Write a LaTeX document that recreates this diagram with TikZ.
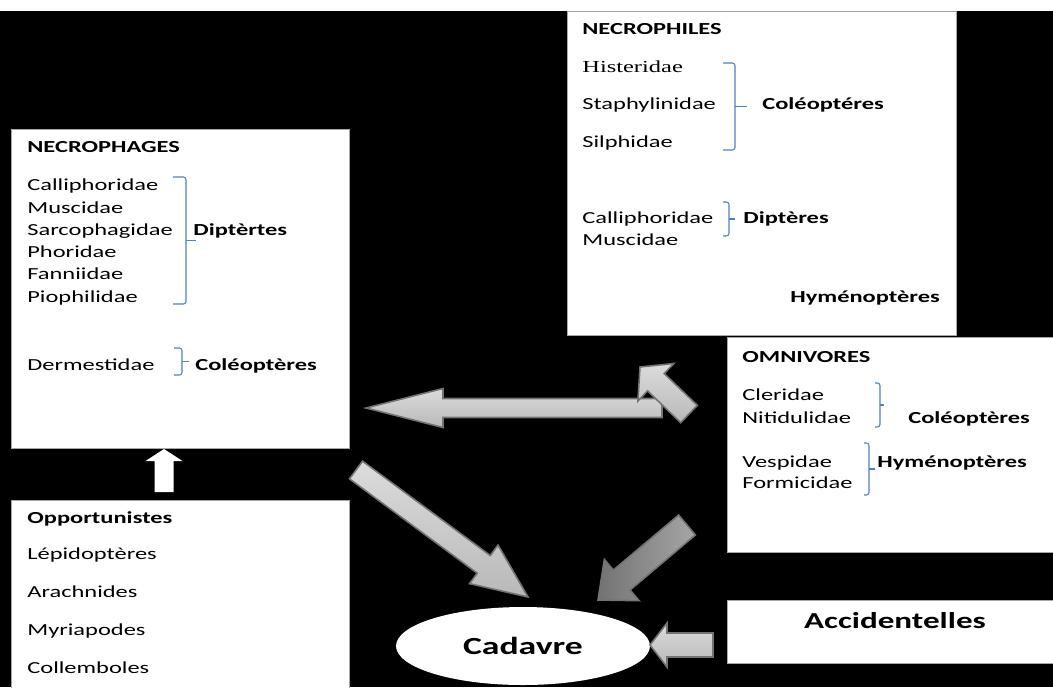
\documentclass[tikz,border=0pt]{standalone}
\usepackage{fontspec}
\newfontfamily\bodyfont[FakeStretch=1.45]{Carlito}
\newfontfamily\timesfont[FakeStretch=1.45]{Liberation Serif}
\usepackage{tikz}
\usetikzlibrary{calc,shapes.geometric}
\definecolor{bracketblue}{HTML}{4F81BD}
\tikzset{%
    box/.style={draw=gray!70, fill=white, line width=0.5pt, inner sep=0pt, anchor=north west},
    lbl/.style={anchor=base west, inner sep=0pt, font=\bodyfont\fontsize{9.6}{12}\selectfont},
    hdr/.style={lbl, font=\bodyfont\bfseries\fontsize{9.6}{12}\selectfont},
    brk/.style={draw=bracketblue, line width=0.6pt, rounded corners=1.5pt},
    grayarrow/.style={draw=gray!90!black, line width=0.9pt, top color=gray!28, bottom color=gray!55},
    darkarrow/.style={grayarrow, left color=gray!90!black, right color=gray!70},
    whitearrow/.style={fill=white}
}
% fat arrow: [style]{start}{tip}{shaft half width}{head half width}{head length}, in px
\newcommand{\fatarrow}[6][grayarrow]{%
    \coordinate (fa-b) at ($(#3)!#6*0.02cm!(#2)$);
    \path[#1] ($(#2)!#4*0.02cm!90:(#3)$) -- ($(fa-b)!#4*0.02cm!-90:(#2)$)
        -- ($(fa-b)!#5*0.02cm!-90:(#2)$) -- (#3) -- ($(fa-b)!#5*0.02cm!90:(#2)$)
        -- ($(fa-b)!#4*0.02cm!90:(#2)$) -- ($(#2)!#4*0.02cm!-90:(#3)$) -- cycle;
}
% bracket: x start, x bar, x tick, y top, y bottom
\newcommand{\sidebracket}[5]{%
    \draw[brk] (#1,#4) -- (#2,#4) -- (#2,#5) -- (#1,#5);
    \draw[brk] (#2,{(#4+#5)/2}) -- (#3,{(#4+#5)/2});
}

\begin{document}
\begin{tikzpicture}[x=0.02cm,y=-0.02cm]
    \useasboundingbox (0,0) rectangle (1053,687);
    \fill[black] (0,11) rectangle (1053,687);

    % boxes
    \node[box, minimum width=6.76cm, minimum height=6.38cm] (necrophages) at (11,129) {};
    \node[box, minimum width=7.78cm, minimum height=6.48cm] (necrophiles) at (567,11) {};
    \node[box, minimum width=6.54cm, minimum height=4.3cm] (omnivores) at (727,337) {};
    \node[box, minimum width=6.76cm, minimum height=3.8cm] (opportunistes) at (11,500) {};
    \node[box, minimum width=6.54cm, minimum height=1.26cm] (accidentelles) at (727,600) {};
    \node[ellipse, fill=white, minimum width=5.08cm, minimum height=1.56cm, inner sep=0pt,
        font=\bodyfont\bfseries\fontsize{14}{16}\selectfont] (cadavre) at (523,646) {Cadavre};

    % NECROPHAGES
    \node[hdr] (nph-title) at (27,152) {NECROPHAGES};
    \foreach \t [count=\i] in {Calliphoridae,Muscidae,Sarcophagidae,Phoridae,Fanniidae,Piophilidae}
        \node[lbl] (nph-\i) at (27,{168.4+22.3*\i}) {\t};
    \sidebracket{173}{186}{196}{177}{304}
    \node[hdr] (nph-dipt) at (193,235) {Diptèrtes};
    \node[lbl] (nph-derm) at (27,370) {Dermestidae};
    \sidebracket{174}{182}{189}{348}{375}
    \node[hdr] (nph-col) at (195,370) {Coléoptères};

    % NECROPHILES
    \node[hdr] (nphl-title) at (582,34) {NECROPHILES};
    \node[lbl, font=\timesfont\fontsize{9.6}{12}\selectfont] (nphl-1) at (582,72) {Histeridae};
    \node[lbl] (nphl-2) at (582,109) {Staphylinidae};
    \node[lbl] (nphl-3) at (582,147) {Silphidae};
    \sidebracket{723}{735}{747}{63}{150}
    \node[hdr] (nphl-col) at (762,109) {Coléoptéres};
    \node[lbl] (nphl-4) at (582,223) {Calliphoridae};
    \node[lbl] (nphl-5) at (582,245) {Muscidae};
    \sidebracket{723}{729}{735}{202}{236}
    \node[hdr] (nphl-dipt) at (743,223) {Diptères};
    \node[hdr] (nphl-hym) at (790,302) {Hyménoptères};

    % OMNIVORES
    \node[hdr] (omn-title) at (742,362) {OMNIVORES};
    \node[lbl] (omn-1) at (742,400) {Cleridae};
    \node[lbl] (omn-2) at (742,423) {Nitidulidae};
    \sidebracket{875}{880}{884}{383}{427}
    \node[hdr] (omn-col) at (908,423) {Coléoptères};
    \node[lbl] (omn-3) at (742,467) {Vespidae};
    \node[lbl] (omn-4) at (742,488) {Formicidae};
    \sidebracket{864}{869}{875}{443}{495}
    \node[hdr] (omn-hym) at (877,467) {Hyménoptères};

    % Opportunistes
    \node[hdr] (opp-title) at (27,523) {Opportunistes};
    \foreach \t [count=\i] in {Lépidoptères,Arachnides,Myriapodes,Collemboles}
        \node[lbl] (opp-\i) at (27,{522+37.8*\i}) {\t};

    \node[hdr, anchor=base, font=\bodyfont\bfseries\fontsize{13}{15}\selectfont] (acc-lbl) at (895,628) {Accidentelles};

    % arrows
    \coordinate (a0s) at (164,492);
    \coordinate (a0t) at (164,449);
    \coordinate (a1s) at (662,408);
    \coordinate (a1t) at (366,408);
    \coordinate (a2s) at (689,414);
    \coordinate (a2t) at (640,367);
    \coordinate (a3s) at (356,470);
    \coordinate (a3t) at (528,597);
    \coordinate (a4s) at (687,525);
    \coordinate (a4t) at (598,600);
    \coordinate (a5s) at (713,645);
    \coordinate (a5t) at (650,645);
    \fatarrow[whitearrow]{a0s}{a0t}{9.5}{18.5}{12}
    \fatarrow{a1s}{a1t}{9.5}{19.5}{77}
    \fatarrow{a2s}{a2t}{12}{26}{22}
    \fatarrow{a3s}{a3t}{11}{24}{55}
    \fatarrow[darkarrow]{a4s}{a4t}{13}{27}{31}
    \fatarrow{a5s}{a5t}{12}{22}{17}
\end{tikzpicture}
\end{document}
